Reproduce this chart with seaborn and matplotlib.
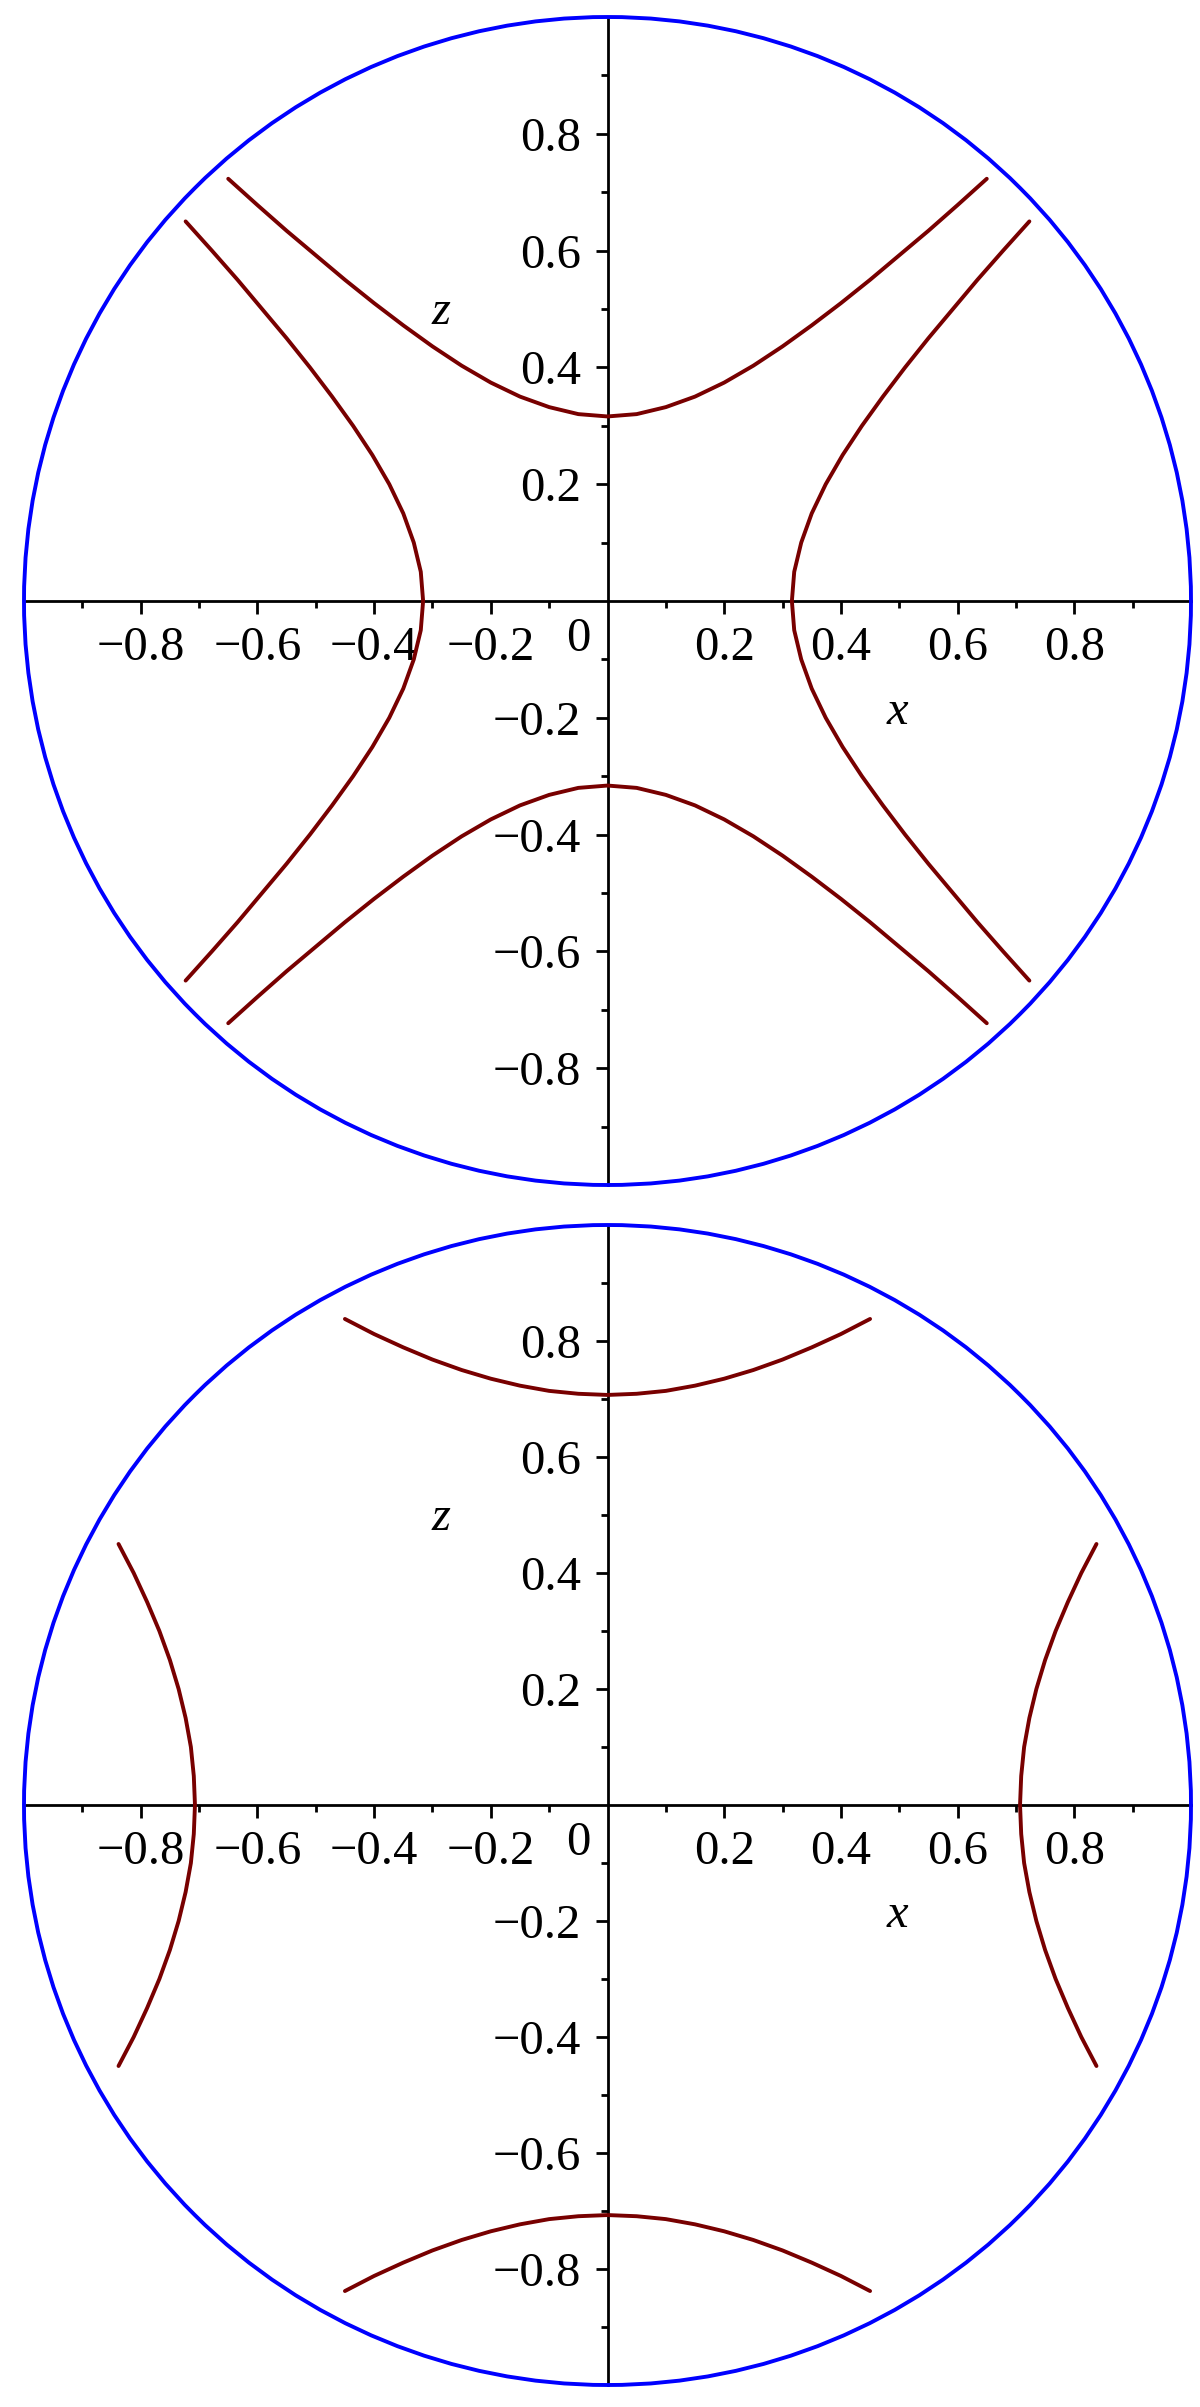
import matplotlib
matplotlib.use("Agg")
import matplotlib.pyplot as plt
import seaborn as sns
from matplotlib.patches import Circle
from matplotlib.ticker import FixedLocator, FixedFormatter

# ---------------- data ----------------
major_ticks = [-0.8, -0.6, -0.4, -0.2, 0.2, 0.4, 0.6, 0.8]
major_labels = ["−0.8", "−0.6", "−0.4", "−0.2", "0.2", "0.4", "0.6", "0.8"]
minor_ticks = [-0.9, -0.7, -0.5, -0.3, -0.1, 0.1, 0.3, 0.5, 0.7, 0.9]
circle_radius = 1.0

# top panel: four hyperbola branches
top_up_x = [-0.65, -0.60, -0.55, -0.50, -0.45, -0.40, -0.35, -0.30, -0.25, -0.20, -0.15, -0.10, -0.05, 0.0,
            0.05, 0.10, 0.15, 0.20, 0.25, 0.30, 0.35, 0.40, 0.45, 0.50, 0.55, 0.60, 0.65]
top_up_z = [0.723, 0.678, 0.634, 0.592, 0.550, 0.510, 0.472, 0.436, 0.403, 0.374, 0.350, 0.332, 0.320, 0.316,
            0.320, 0.332, 0.350, 0.374, 0.403, 0.436, 0.472, 0.510, 0.550, 0.592, 0.634, 0.678, 0.723]
top_dn_x = [-0.65, -0.60, -0.55, -0.50, -0.45, -0.40, -0.35, -0.30, -0.25, -0.20, -0.15, -0.10, -0.05, 0.0,
            0.05, 0.10, 0.15, 0.20, 0.25, 0.30, 0.35, 0.40, 0.45, 0.50, 0.55, 0.60, 0.65]
top_dn_z = [-0.723, -0.678, -0.634, -0.592, -0.550, -0.510, -0.472, -0.436, -0.403, -0.374, -0.350, -0.332, -0.320, -0.316,
            -0.320, -0.332, -0.350, -0.374, -0.403, -0.436, -0.472, -0.510, -0.550, -0.592, -0.634, -0.678, -0.723]
top_rt_x = [0.723, 0.678, 0.634, 0.592, 0.550, 0.510, 0.472, 0.436, 0.403, 0.374, 0.350, 0.332, 0.320, 0.316,
            0.320, 0.332, 0.350, 0.374, 0.403, 0.436, 0.472, 0.510, 0.550, 0.592, 0.634, 0.678, 0.723]
top_rt_z = [0.65, 0.60, 0.55, 0.50, 0.45, 0.40, 0.35, 0.30, 0.25, 0.20, 0.15, 0.10, 0.05, 0.0,
            -0.05, -0.10, -0.15, -0.20, -0.25, -0.30, -0.35, -0.40, -0.45, -0.50, -0.55, -0.60, -0.65]
top_lt_x = [-0.723, -0.678, -0.634, -0.592, -0.550, -0.510, -0.472, -0.436, -0.403, -0.374, -0.350, -0.332, -0.320, -0.316,
            -0.320, -0.332, -0.350, -0.374, -0.403, -0.436, -0.472, -0.510, -0.550, -0.592, -0.634, -0.678, -0.723]
top_lt_z = [0.65, 0.60, 0.55, 0.50, 0.45, 0.40, 0.35, 0.30, 0.25, 0.20, 0.15, 0.10, 0.05, 0.0,
            -0.05, -0.10, -0.15, -0.20, -0.25, -0.30, -0.35, -0.40, -0.45, -0.50, -0.55, -0.60, -0.65]

# bottom panel
bot_up_x = [-0.45, -0.40, -0.35, -0.30, -0.25, -0.20, -0.15, -0.10, -0.05, 0.0,
            0.05, 0.10, 0.15, 0.20, 0.25, 0.30, 0.35, 0.40, 0.45]
bot_up_z = [0.838, 0.812, 0.789, 0.768, 0.750, 0.735, 0.723, 0.714, 0.709, 0.707,
            0.709, 0.714, 0.723, 0.735, 0.750, 0.768, 0.789, 0.812, 0.838]
bot_dn_x = [-0.45, -0.40, -0.35, -0.30, -0.25, -0.20, -0.15, -0.10, -0.05, 0.0,
            0.05, 0.10, 0.15, 0.20, 0.25, 0.30, 0.35, 0.40, 0.45]
bot_dn_z = [-0.838, -0.812, -0.789, -0.768, -0.750, -0.735, -0.723, -0.714, -0.709, -0.707,
            -0.709, -0.714, -0.723, -0.735, -0.750, -0.768, -0.789, -0.812, -0.838]
bot_rt_x = [0.838, 0.812, 0.789, 0.768, 0.750, 0.735, 0.723, 0.714, 0.709, 0.707,
            0.709, 0.714, 0.723, 0.735, 0.750, 0.768, 0.789, 0.812, 0.838]
bot_rt_z = [0.45, 0.40, 0.35, 0.30, 0.25, 0.20, 0.15, 0.10, 0.05, 0.0,
            -0.05, -0.10, -0.15, -0.20, -0.25, -0.30, -0.35, -0.40, -0.45]
bot_lt_x = [-0.838, -0.812, -0.789, -0.768, -0.750, -0.735, -0.723, -0.714, -0.709, -0.707,
            -0.709, -0.714, -0.723, -0.735, -0.750, -0.768, -0.789, -0.812, -0.838]
bot_lt_z = [0.45, 0.40, 0.35, 0.30, 0.25, 0.20, 0.15, 0.10, 0.05, 0.0,
            -0.05, -0.10, -0.15, -0.20, -0.25, -0.30, -0.35, -0.40, -0.45]

# ---------------- style ----------------
sns.set_style("white")
plt.rcParams['font.family'] = ['Liberation Serif', 'DejaVu Serif']
plt.rcParams['axes.unicode_minus'] = True
plt.rcParams['text.color'] = 'black'

CURVE = "#780000"
CIRC = "#0000ff"
FS = 35

fig = plt.figure(figsize=(12, 24.07), dpi=100)
ax_top = fig.add_axes([24 / 1200, (2407 - 1185) / 2407, 1167 / 1200, 1168 / 2407])
ax_bot = fig.add_axes([24 / 1200, (2407 - 2385) / 2407, 1167 / 1200, 1160 / 2407])

panels = [
    (ax_top, [(top_up_x, top_up_z), (top_dn_x, top_dn_z), (top_rt_x, top_rt_z), (top_lt_x, top_lt_z)]),
    (ax_bot, [(bot_up_x, bot_up_z), (bot_dn_x, bot_dn_z), (bot_rt_x, bot_rt_z), (bot_lt_x, bot_lt_z)]),
]

for ax, curves in panels:
    ax.set_facecolor("white")
    ax.add_patch(Circle((0, 0), circle_radius, fill=False, edgecolor=CIRC, lw=2.8,
                        clip_on=False, zorder=3))
    for xs, zs in curves:
        sns.lineplot(x=xs, y=zs, sort=False, estimator=None, color=CURVE, lw=2.8, ax=ax, zorder=4)
    ax.set_xlim(-1, 1)
    ax.set_ylim(-1, 1)
    for s in ["top", "right"]:
        ax.spines[s].set_visible(False)
    ax.spines["left"].set_position(("data", 0))
    ax.spines["bottom"].set_position(("data", 0))
    for s in ["left", "bottom"]:
        ax.spines[s].set_linewidth(2.0)
        ax.spines[s].set_color("black")
        ax.spines[s].set_zorder(2)
    for axis in (ax.xaxis, ax.yaxis):
        axis.set_major_locator(FixedLocator(major_ticks))
        axis.set_major_formatter(FixedFormatter(major_labels))
        axis.set_minor_locator(FixedLocator(minor_ticks))
    ax.tick_params(which="both", bottom=True, left=True, top=False, right=False)
    ax.tick_params(which="major", direction="out", length=9, width=2.0, labelsize=FS, colors="black")
    ax.tick_params(which="minor", direction="out", length=5, width=2.0, colors="black")
    ax.tick_params(axis="x", which="major", pad=9)
    ax.tick_params(axis="y", which="major", pad=10)
    ax.set_xlabel("")
    ax.set_ylabel("")
    ax.grid(False)
    ax.text(-0.05, -0.065, "0", fontsize=FS, color="black", ha="center", va="center")
    ax.text(-0.285, 0.495, "z", fontsize=FS, color="black", fontstyle="italic", ha="center", va="center")
    ax.text(0.497, -0.19, "x", fontsize=FS, color="black", fontstyle="italic", ha="center", va="center")

fig.savefig("out.png", dpi=100, facecolor="white")
